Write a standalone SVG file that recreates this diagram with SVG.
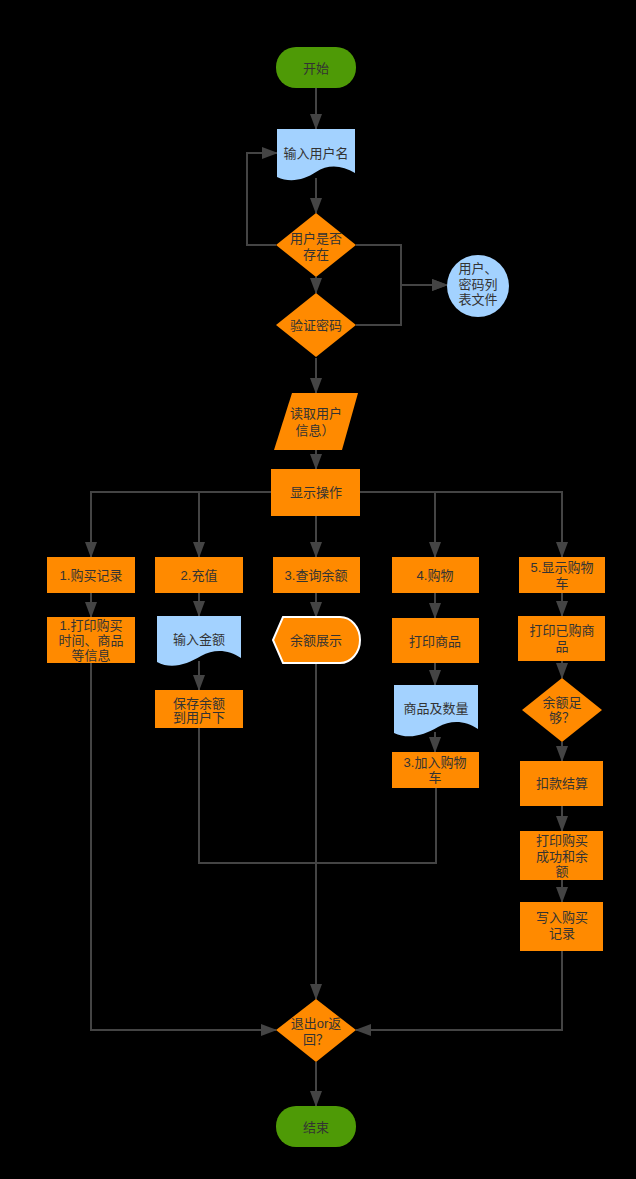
<svg xmlns="http://www.w3.org/2000/svg" width="636" height="1179" viewBox="0 0 636 1179">
<defs>
<marker id="ah" markerUnits="userSpaceOnUse" markerWidth="16" markerHeight="12" refX="15" refY="6" orient="auto">
<path d="M0,0 L16,6 L0,12 Z" fill="#444"/>
</marker>
<style>
.t{font-family:"Liberation Sans","Noto Sans CJK SC",sans-serif;font-size:13px;fill:#333;text-anchor:middle;dominant-baseline:central}
.o{fill:#ff8a00}
.b{fill:#a3d2ff}
.g{fill:#4e9a06}
.c{fill:none;stroke:#444;stroke-width:2}
.ca{fill:none;stroke:#444;stroke-width:2;marker-end:url(#ah)}
</style>
</defs>
<rect width="636" height="1179" fill="#000"/>
<g id="connectors">
<path class="ca" d="M316,88 V129"/>
<path class="ca" d="M316,178 V213"/>
<path class="ca" d="M276,245 H247 V153 H277"/>
<path class="ca" d="M316,277 V293"/>
<path class="ca" d="M356,245 H401 V285 H447"/>
<path class="ca" d="M356,325 H401 V285 H447"/>
<path class="ca" d="M316,358 V393"/>
<path class="ca" d="M316,450 V469"/>
<path class="ca" d="M271,492 H91 V557"/>
<path class="ca" d="M271,492 H199 V557"/>
<path class="ca" d="M316,516 V557"/>
<path class="ca" d="M360,492 H435 V557"/>
<path class="ca" d="M360,492 H562 V557"/>
<path class="ca" d="M91,593 V617"/>
<path class="ca" d="M199,593 V616"/>
<path class="ca" d="M316,593 V617"/>
<path class="ca" d="M435,593 V618"/>
<path class="ca" d="M562,593 V616"/>
<path class="ca" d="M199,661 V690"/>
<path class="ca" d="M435,663 V685"/>
<path class="ca" d="M435,732 V752"/>
<path class="ca" d="M562,661 V678"/>
<path class="ca" d="M562,742 V761"/>
<path class="ca" d="M562,806 V831"/>
<path class="ca" d="M562,880 V902"/>
<path class="c" d="M199,728 V863 H436 V788"/>
<path class="ca" d="M316,663 V999"/>
<path class="ca" d="M91,663 V1030 H276"/>
<path class="ca" d="M562,951 V1030 H356"/>
<path class="ca" d="M316,1062 V1106"/>
</g>
<g id="start"><rect class="g" x="276" y="47" width="80" height="41" rx="20"/><text class="t" x="316" y="68">开始</text></g>
<g id="input-user"><path class="b" d="M277,129 H355 V173 C342,165 328,164 316,172 S290,183 277,177 Z"/><text class="t" x="316" y="153">输入用户名</text></g>
<g id="user-exists"><path class="o" d="M316,213 L356,245 L316,277 L276,245 Z"/><text class="t" x="316" y="238">用户是否</text><text class="t" x="316" y="254">存在</text></g>
<g id="verify-pwd"><path class="o" d="M316,293 L356,325 L316,357 L276,325 Z"/><text class="t" x="316" y="325">验证密码</text></g>
<g id="user-file"><circle class="b" cx="478" cy="286" r="31"/><text class="t" x="478" y="268">用户、</text><text class="t" x="478" y="284">密码列</text><text class="t" x="478" y="299">表文件</text></g>
<g id="read-info"><path class="o" d="M292,393 H358 L342,450 H274 Z"/><text class="t" x="316" y="413">读取用户</text><text class="t" x="315" y="430">信息）</text></g>
<g id="show-ops"><rect class="o" x="271" y="469" width="89" height="47"/><text class="t" x="316" y="492">显示操作</text></g>
<g id="n1"><rect class="o" x="47" y="557" width="88" height="36"/><text class="t" x="91" y="575">1.购买记录</text></g>
<g id="n2"><rect class="o" x="155" y="557" width="88" height="36"/><text class="t" x="199" y="575">2.充值</text></g>
<g id="n3"><rect class="o" x="273" y="557" width="87" height="36"/><text class="t" x="316" y="575">3.查询余额</text></g>
<g id="n4"><rect class="o" x="392" y="557" width="87" height="36"/><text class="t" x="435" y="575">4.购物</text></g>
<g id="n5"><rect class="o" x="519" y="557" width="86" height="36"/><text class="t" x="562" y="567">5.显示购物</text><text class="t" x="562" y="583">车</text></g>
<g id="print-record"><rect class="o" x="47" y="617" width="88" height="46"/><text class="t" x="91" y="625">1.打印购买</text><text class="t" x="91" y="640">时间、商品</text><text class="t" x="91" y="655">等信息</text></g>
<g id="input-amount"><path class="b" d="M157,616 H241 V658 C229,650 215,648 201,656 S172,670 157,662 Z"/><text class="t" x="199" y="639">输入金额</text></g>
<g id="balance-show"><path class="o" stroke="#fff" stroke-width="2" d="M283,617 H340 A20,23 0 0 1 340,663 H283 L273,640 Z"/><text class="t" x="316" y="640">余额展示</text></g>
<g id="print-goods"><rect class="o" x="392" y="618" width="87" height="45"/><text class="t" x="435" y="641">打印商品</text></g>
<g id="print-bought"><rect class="o" x="518" y="616" width="87" height="45"/><text class="t" x="562" y="630">打印已购商</text><text class="t" x="562" y="646">品</text></g>
<g id="save-balance"><rect class="o" x="155" y="690" width="88" height="38"/><text class="t" x="199" y="703">保存余额</text><text class="t" x="199" y="717">到用户下</text></g>
<g id="goods-qty"><path class="b" d="M394,685 H478 V729 C466,721 452,719 438,727 S409,740 394,733 Z"/><text class="t" x="436" y="708">商品及数量</text></g>
<g id="balance-enough"><path class="o" d="M562,678 L602,710 L562,742 L522,710 Z"/><text class="t" x="562" y="702">余额足</text><text class="t" x="562" y="717">够？</text></g>
<g id="add-cart"><rect class="o" x="392" y="752" width="87" height="36"/><text class="t" x="435" y="762">3.加入购物</text><text class="t" x="435" y="777">车</text></g>
<g id="checkout"><rect class="o" x="520" y="761" width="83" height="45"/><text class="t" x="562" y="783">扣款结算</text></g>
<g id="print-success"><rect class="o" x="520" y="831" width="83" height="49"/><text class="t" x="562" y="840">打印购买</text><text class="t" x="562" y="856">成功和余</text><text class="t" x="562" y="871">额</text></g>
<g id="write-record"><rect class="o" x="520" y="902" width="83" height="49"/><text class="t" x="562" y="917">写入购买</text><text class="t" x="562" y="933">记录</text></g>
<g id="exit-return"><path class="o" d="M316,999 L356,1030 L316,1062 L276,1030 Z"/><text class="t" x="316" y="1023">退出or返</text><text class="t" x="316" y="1039">回？</text></g>
<g id="end"><rect class="g" x="276" y="1106" width="80" height="41" rx="20"/><text class="t" x="316" y="1127">结束</text></g>
</svg>
